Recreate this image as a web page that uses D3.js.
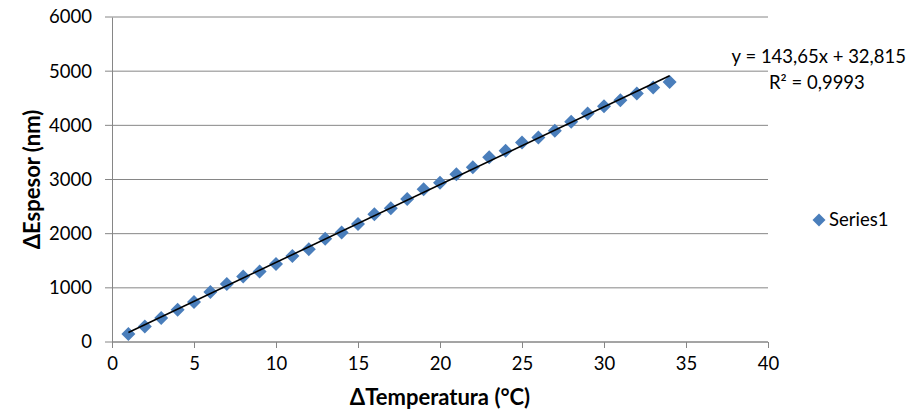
<!DOCTYPE html>
<html lang="es">
<head>
<meta charset="UTF-8">
<script src="https://d3js.org/d3.v7.min.js"></script>
<title>Espesor vs Temperatura</title>
<style>
  body { margin: 0; background: #fff; }
  text { font-family: Lato, "Open Sans", sans-serif; fill: #000; }
</style>
</head>
<body>
<svg id="mainsvg" width="918" height="420"></svg>
<script>
// datos
const temps = [1,2,3,4,5,6,7,8,9,10,11,12,13,14,15,16,17,18,19,20,21,22,23,24,25,26,27,28,29,30,31,32,33,34]
const espesor = [148,287,442,595,737,921,1069,1209,1301,1440,1590,1714,1905,2020,2180,2358,2469,2640,2819,2940,3095,3224,3409,3531,3685,3777,3899,4065,4220,4354,4465,4588,4699,4802]
const yTicks = [0,1000,2000,3000,4000,5000,6000]
const xTicks = [0,5,10,15,20,25,30,35,40]
const slope = 143.65, intercept = 32.815
const eqLabel = 'y = 143,65x + 32,815'
const r2Label = 'R² = 0,9993'
const seriesName = 'Series1'

const svg = d3.select('#mainsvg')
const margin = { top: 17, left: 112, bottom: 78, right: 150 }
const width = +svg.attr('width'), height = +svg.attr('height')
const innerWidth = width - margin.left - margin.right
const innerHeight = height - margin.top - margin.bottom
const gray = '#868686'
const blue = '#4a7ebb'
const fs = '18.5px'

const xScale = d3.scaleLinear().domain([0, 40]).range([0, innerWidth])
const yScale = d3.scaleLinear().domain([0, 6000]).range([innerHeight, 0])

const g = svg.append('g').attr('transform', `translate(${margin.left},${margin.top})`)

// gridlines
g.selectAll('.grid').data(yTicks).enter().append('line')
  .attr('x1', -7).attr('x2', innerWidth)
  .attr('y1', d => yScale(d)).attr('y2', d => yScale(d))
  .attr('stroke', gray).attr('stroke-width', 1)

// eje y
const yAxis = g.append('g')
  .call(d3.axisLeft(yScale).tickValues(yTicks).tickFormat(d3.format('d')).tickSize(0).tickPadding(20))
yAxis.select('.domain').attr('stroke', gray)
yAxis.selectAll('text').style('font-size', fs).style('font-family', 'Lato, sans-serif')

// eje x
const xAxis = g.append('g').attr('transform', `translate(0,${innerHeight})`)
  .call(d3.axisBottom(xScale).tickValues(xTicks).tickSize(6).tickPadding(9))
xAxis.select('.domain').attr('stroke', gray).attr('d', `M0,0H${innerWidth}`)
xAxis.selectAll('line').attr('stroke', gray)
xAxis.selectAll('text').style('font-size', fs).style('font-family', 'Lato, sans-serif')

// puntos
const s = 7
g.selectAll('.pt').data(temps).enter().append('path')
  .attr('d', `M0,${-s}L${s},0L0,${s}L${-s},0Z`)
  .attr('transform', (d, i) => `translate(${xScale(d)},${yScale(espesor[i])})`)
  .attr('fill', blue)

// línea de tendencia
const x0 = d3.min(temps), x1 = d3.max(temps)
g.append('line')
  .attr('x1', xScale(x0)).attr('y1', yScale(slope * x0 + intercept))
  .attr('x2', xScale(x1)).attr('y2', yScale(slope * x1 + intercept))
  .attr('stroke', '#000').attr('stroke-width', 1.6)

// ecuación
svg.append('text').attr('x', 906).attr('y', 63).attr('text-anchor', 'end')
  .style('font-size', fs).text(eqLabel)
svg.append('text').attr('x', 769).attr('y', 89)
  .style('font-size', fs).text(r2Label)

// títulos
svg.append('text').attr('x', margin.left + innerWidth / 2).attr('y', 405)
  .attr('text-anchor', 'middle').style('font-size', '22px').style('font-weight', 'bold')
  .text('ΔTemperatura (°C)')
svg.append('text').attr('transform', `translate(40,${margin.top + innerHeight / 2}) rotate(-90)`)
  .attr('text-anchor', 'middle').style('font-size', '22px').style('font-weight', 'bold')
  .text('ΔEspesor (nm)')

// leyenda
const lg = svg.append('g').attr('transform', 'translate(819,220)')
lg.append('path').attr('d', 'M0,-6.5L6.5,0L0,6.5L-6.5,0Z').attr('fill', blue)
lg.append('text').attr('x', 10).attr('y', 6).style('font-size', fs).text(seriesName)
</script>
</body>
</html>
